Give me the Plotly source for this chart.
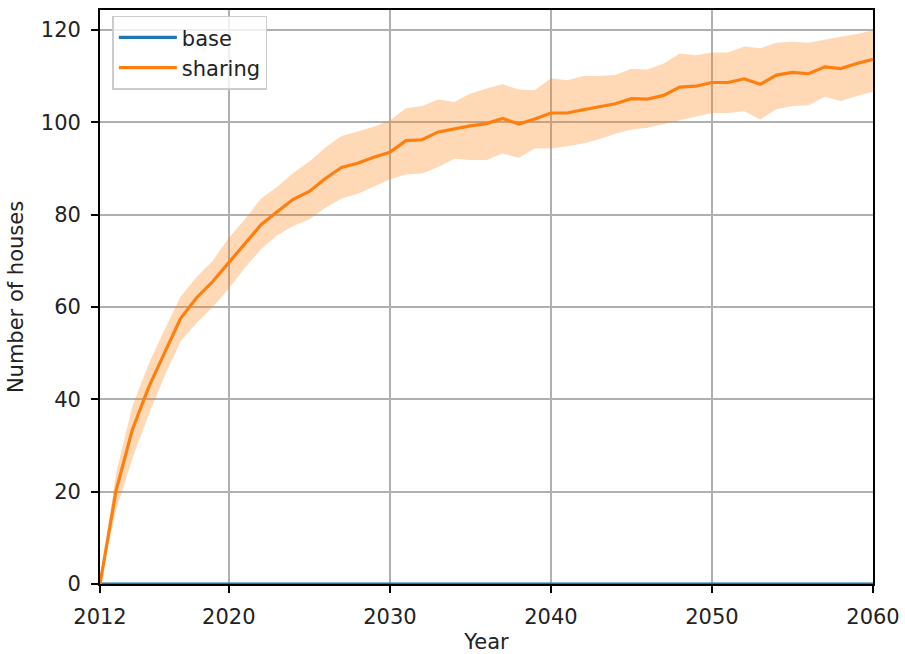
import plotly.graph_objects as go

years = list(range(2012, 2061))

base_mean = [0.0] * len(years)

sharing_mean = [
    0.0, 20.3, 33.3, 42.4, 50.0, 57.5, 62.0, 65.5, 69.6, 73.8,
    77.8, 80.6, 83.3, 85.0, 87.8, 90.2, 91.1, 92.4, 93.5, 96.0,
    96.2, 97.9, 98.6, 99.2, 99.7, 100.8, 99.6, 100.7, 102.0, 102.0,
    102.7, 103.3, 104.0, 105.1, 105.0, 105.8, 107.6, 107.8, 108.6, 108.6,
    109.4, 108.2, 110.2, 110.8, 110.5, 112.0, 111.6, 112.7, 113.6,
]

sharing_upper = [
    0.0, 24.0, 38.4, 47.5, 55.0, 62.2, 66.5, 70.0, 75.0, 79.0,
    83.5, 86.0, 89.0, 91.5, 94.5, 97.0, 98.0, 99.0, 100.4, 103.0,
    103.5, 104.9, 104.4, 106.2, 107.3, 108.2, 107.1, 106.9, 109.5, 109.1,
    110.0, 110.0, 110.2, 111.6, 111.4, 112.7, 114.9, 114.5, 115.1, 115.1,
    116.4, 116.0, 117.2, 117.4, 117.2, 117.9, 118.5, 119.1, 119.9,
]

sharing_lower = [
    0.0, 16.0, 27.0, 36.5, 45.0, 52.5, 56.5, 60.0, 64.0, 68.5,
    72.5, 75.5, 77.5, 79.0, 81.5, 83.5, 84.5, 86.0, 87.6, 88.7,
    88.9, 90.3, 92.1, 91.8, 91.8, 93.2, 92.3, 94.3, 94.3, 94.8,
    95.4, 96.3, 97.5, 98.4, 98.8, 99.6, 100.4, 101.2, 102.0, 102.0,
    102.4, 100.6, 102.8, 103.5, 103.7, 105.5, 104.6, 105.7, 106.6,
]

x_ticks = [2012, 2020, 2030, 2040, 2050, 2060]
y_ticks = [0, 20, 40, 60, 80, 100, 120]

BLUE = "#1f77b4"
ORANGE = "#ff7f0e"
FONT = "DejaVu Sans"
TEXT = "#222222"

fig = go.Figure()

fig.add_trace(go.Scatter(
    x=years, y=base_mean, mode="lines", name="base",
    line=dict(color=BLUE, width=3.2),
))

# spread band around the sharing scenario
fig.add_trace(go.Scatter(
    x=years, y=sharing_upper, mode="lines", line=dict(width=0),
    showlegend=False, hoverinfo="skip",
))
fig.add_trace(go.Scatter(
    x=years, y=sharing_lower, mode="lines", line=dict(width=0),
    fill="tonexty", fillcolor="rgba(255,127,14,0.3)",
    showlegend=False, hoverinfo="skip",
))

fig.add_trace(go.Scatter(
    x=years, y=sharing_mean, mode="lines", name="sharing",
    line=dict(color=ORANGE, width=3.2),
))

axis_common = dict(
    showline=True, linecolor="black", linewidth=1.7, mirror=True,
    ticks="outside", ticklen=7, tickwidth=1.7, tickcolor="black",
    showgrid=True, gridcolor="#b0b0b0", gridwidth=1.6,
    zeroline=False, automargin=False,
    tickfont=dict(family=FONT, size=21, color=TEXT),
    ticklabelstandoff=6,
)

fig.update_xaxes(
    range=[2012, 2060], tickvals=x_ticks,
    title=dict(text="Year", font=dict(family=FONT, size=21, color=TEXT), standoff=8),
    **axis_common,
)
fig.update_yaxes(
    range=[0, 124.3], tickvals=y_ticks,
    title=dict(text="Number of houses", font=dict(family=FONT, size=21, color=TEXT), standoff=12),
    **axis_common,
)

fig.update_layout(
    width=905, height=654,
    margin=dict(l=100, r=32, t=10, b=70, autoexpand=False),
    paper_bgcolor="white", plot_bgcolor="white",
    font=dict(family=FONT, size=21, color=TEXT),
    showlegend=True,
    legend=dict(
        x=0.016, y=0.99, xanchor="left", yanchor="top",
        traceorder="normal", itemwidth=58,
        bgcolor="rgba(255,255,255,0.8)", bordercolor="#cccccc", borderwidth=1.5,
        font=dict(family=FONT, size=21, color=TEXT),
        tracegroupgap=0,
    ),
)

fig.write_html("out.html")
